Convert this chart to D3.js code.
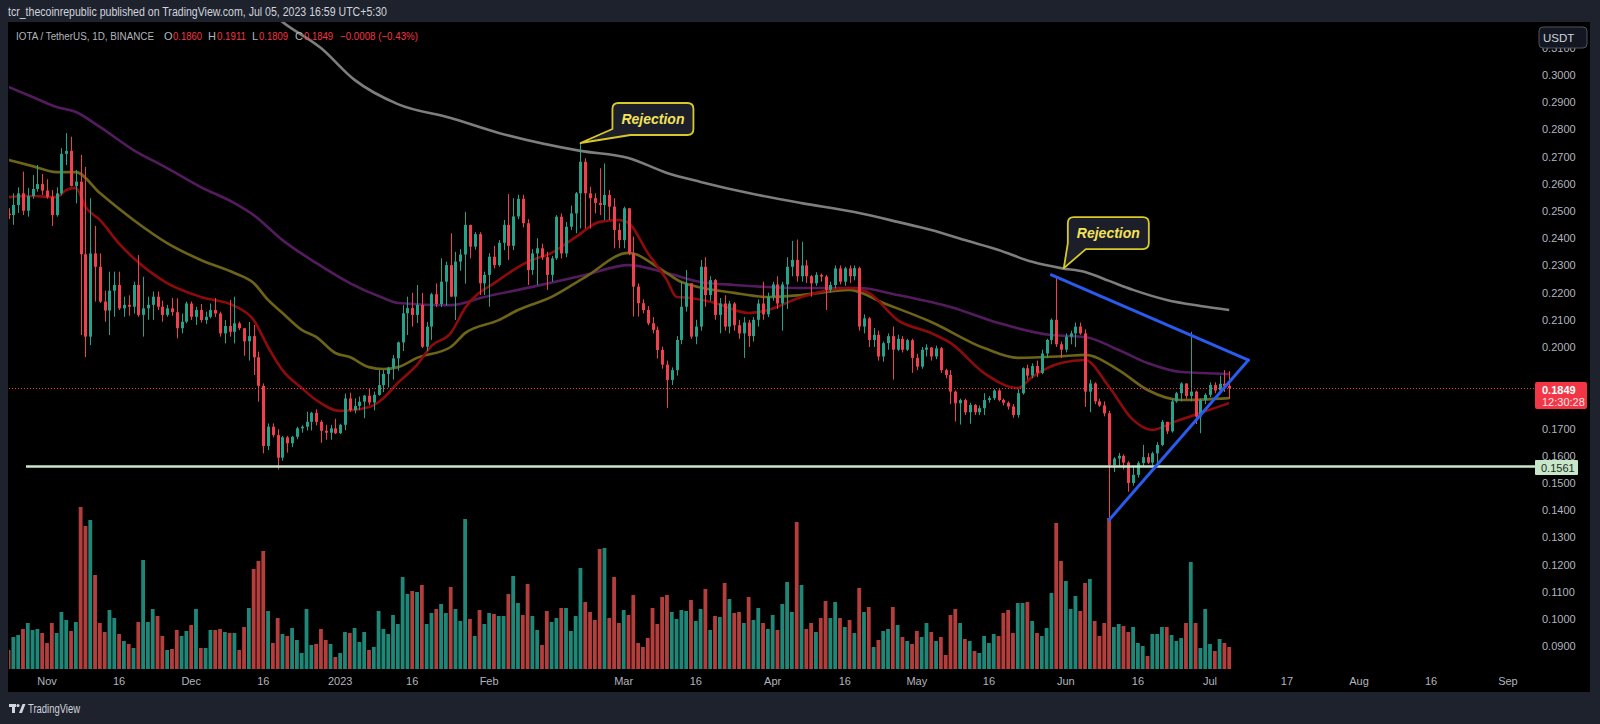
<!DOCTYPE html>
<html>
<head>
<meta charset="utf-8">
<script src="https://cdn.jsdelivr.net/npm/d3@7"></script>
<style>
  body { margin: 0; background: #1e222d; }
  svg { display: block; }
  text { font-family: "Liberation Sans", Arial, sans-serif; }
</style>
</head>
<body>
<div id="chart"></div>
<script>
// ---- data (IOTA/USDT daily, Binance) ----
const startDay = "2022-10-24";
const firstOpen = 0.2490;

const closes = [
  .2485,.2522,.2565,.2501,.2555,.2581,.2599,.2575,.2552,.2485,
  .2565,.2710,.2721,.2592,.2608,.2341,.2038,.2344,.2295,.2167,
  .2134,.2207,.2228,.2142,.2155,.2148,.2228,.2118,.2142,.2155,
  .2185,.2148,.2118,.2142,.2128,.2069,.2093,.2160,.2111,.2136,
  .2099,.2111,.2136,.2123,.2050,.2077,.2056,.2087,.2069,.2021,
  .2040,.1962,.1857,.1636,.1707,.1676,.1593,.1668,.1646,.1670,
  .1701,.1707,.1725,.1758,.1725,.1692,.1685,.1701,.1683,.1714,
  .1811,.1768,.1783,.1799,.1821,.1796,.1824,.1860,.1901,.1924,
  .1958,.2017,.2124,.2143,.2118,.2155,.2001,.2075,.2194,.2158,
  .2240,.2301,.2185,.2314,.2340,.2449,.2369,.2415,.2234,.2265,
  .2332,.2301,.2383,.2449,.2372,.2480,.2545,.2455,.2283,.2344,
  .2363,.2330,.2265,.2326,.2479,.2344,.2442,.2491,.2565,.2681,
  .2565,.2547,.2530,.2522,.2559,.2516,.2430,.2393,.2510,.2344,
  .2222,.2161,.2136,.2087,.2063,.1989,.1935,.1879,.1915,.2026,
  .2148,.2234,.2038,.2075,.2295,.2191,.2246,.2118,.2160,.2075,
  .2160,.2080,.2050,.2090,.2040,.2100,.2160,.2120,.2185,.2230,
  .2160,.2230,.2295,.2320,.2260,.2300,.2260,.2234,.2265,.2259,
  .2210,.2228,.2289,.2240,.2289,.2260,.2290,.2075,.2105,.2026,
  .2045,.1965,.2014,.2040,.1990,.2030,.1990,.2025,.1960,.1928,
  .1990,.1998,.1965,.1995,.1915,.1897,.1836,.1793,.1805,.1760,
  .1787,.1760,.1775,.1805,.1812,.1840,.1805,.1795,.1781,.1750,
  .1830,.1922,.1895,.1930,.1905,.1976,.2026,.2100,.2010,.1990,
  .2038,.2050,.2075,.2050,.1836,.1866,.1800,.1785,.1756,.1566,
  .1590,.1600,.1575,.1500,.1530,.1573,.1595,.1575,.1609,.1640,
  .1725,.1690,.1800,.1830,.1866,.1820,.1836,.1744,.1805,.1824,
  .1860,.1840,.1865,.1857,.1849
];

const highs = [
  .2510,.2565,.2587,.2645,.2585,.2632,.2669,.2636,.2617,.2577,
  .2587,.2731,.2786,.2773,.2651,.2706,.2662,.2547,.2445,.2344,
  .2207,.2277,.2277,.2277,.2185,.2190,.2240,.2338,.2258,.2185,
  .2204,.2204,.2170,.2155,.2180,.2179,.2123,.2167,.2167,.2148,
  .2158,.2130,.2160,.2180,.2130,.2099,.2173,.2185,.2093,.2069,
  .2092,.2081,.1983,.1866,.1719,.1719,.1697,.1673,.1673,.1673,
  .1707,.1712,.1762,.1762,.1771,.1731,.1714,.1714,.1736,.1718,
  .1829,.1832,.1811,.1818,.1824,.1846,.1836,.1915,.1915,.1927,
  .1971,.2020,.2154,.2185,.2199,.2228,.2199,.2092,.2199,.2234,
  .2326,.2314,.2418,.2350,.2360,.2497,.2449,.2422,.2422,.2277,
  .2345,.2372,.2393,.2467,.2562,.2547,.2560,.2560,.2470,.2360,
  .2400,.2380,.2350,.2335,.2485,.2491,.2460,.2520,.2570,.2750,
  .2694,.2589,.2565,.2657,.2675,.2577,.2547,.2455,.2516,.2510,
  .2406,.2234,.2175,.2150,.2110,.2075,.2001,.1950,.1925,.2040,
  .2240,.2283,.2234,.2100,.2320,.2330,.2260,.2250,.2180,.2190,
  .2170,.2165,.2100,.2110,.2100,.2110,.2175,.2240,.2200,.2240,
  .2260,.2240,.2330,.2390,.2395,.2387,.2320,.2265,.2275,.2270,
  .2265,.2240,.2300,.2300,.2295,.2300,.2300,.2295,.2120,.2110,
  .2070,.2060,.2020,.2050,.2075,.2045,.2040,.2030,.2030,.1975,
  .2000,.2010,.2000,.2005,.2000,.1920,.1915,.1840,.1810,.1810,
  .1795,.1790,.1785,.1830,.1820,.1845,.1845,.1810,.1800,.1790,
  .1845,.1925,.1935,.1940,.1950,.1990,.2030,.2105,.2261,.2020,
  .2050,.2060,.2090,.2090,.2065,.1880,.1870,.1810,.1800,.1765,
  .1595,.1610,.1605,.1580,.1560,.1580,.1640,.1610,.1615,.1650,
  .1732,.1725,.1810,.1835,.1870,.1866,.2056,.1840,.1810,.1830,
  .1870,.1870,.1895,.1915,.1911
];

const lows = [
  .2470,.2449,.2493,.2485,.2479,.2545,.2571,.2559,.2545,.2445,
  .2479,.2558,.2669,.2590,.2528,.2044,.1963,.2007,.2167,.2162,
  .2093,.2044,.2111,.2136,.2111,.2115,.2123,.2111,.2038,.2100,
  .2100,.2136,.2093,.2111,.2115,.2032,.2050,.2087,.2099,.2081,
  .2090,.2085,.2105,.2110,.2038,.2013,.2038,.2013,.2062,.1968,
  .1950,.1897,.1799,.1609,.1621,.1668,.1550,.1582,.1612,.1632,
  .1661,.1685,.1693,.1693,.1712,.1648,.1659,.1659,.1680,.1680,
  .1694,.1762,.1756,.1768,.1738,.1786,.1767,.1821,.1834,.1851,
  .1880,.1913,.1985,.2044,.2075,.2088,.1996,.1985,.2026,.2147,
  .2147,.2152,.2185,.2099,.2280,.2233,.2326,.2358,.2191,.2191,
  .2148,.2289,.2295,.2356,.2320,.2356,.2470,.2440,.2228,.2265,
  .2228,.2320,.2210,.2240,.2320,.2326,.2330,.2430,.2418,.2436,
  .2436,.2436,.2491,.2485,.2467,.2467,.2363,.2363,.2363,.2338,
  .2112,.2112,.2124,.2080,.2050,.1958,.1920,.1776,.1860,.1895,
  .2010,.2130,.2030,.2010,.2060,.2148,.2170,.2100,.2050,.2060,
  .2050,.2060,.2030,.1960,.2000,.2020,.2075,.2100,.2110,.2170,
  .2140,.2060,.2140,.2260,.2240,.2240,.2235,.2185,.2225,.2240,
  .2136,.2200,.2215,.2230,.2225,.2235,.2245,.2060,.2050,.2000,
  .2000,.1950,.1946,.1990,.1880,.1985,.1980,.1985,.1905,.1915,
  .1920,.1965,.1950,.1955,.1905,.1885,.1790,.1726,.1715,.1750,
  .1718,.1750,.1750,.1750,.1795,.1805,.1800,.1785,.1770,.1740,
  .1740,.1825,.1880,.1885,.1890,.1900,.1960,.2010,.2000,.1960,
  .1980,.2010,.2000,.2045,.1780,.1760,.1790,.1780,.1745,.1370,
  .1540,.1560,.1550,.1468,.1490,.1520,.1560,.1570,.1565,.1570,
  .1635,.1680,.1685,.1795,.1800,.1810,.1800,.1717,.1683,.1790,
  .1815,.1830,.1835,.1835,.1809
];

// volume, millions IOTA
const volumes = [
  1.9,3.2,3.4,4.0,4.6,3.9,4.0,3.6,2.6,4.6,
  3.6,5.7,4.9,3.8,4.7,16.2,14.3,14.9,9.4,4.6,
  3.7,5.9,5.1,3.5,2.8,2.5,2.1,4.7,10.9,4.7,
  6.0,5.3,3.3,1.9,2.0,3.9,3.3,3.8,4.4,6.0,
  2.1,2.1,3.9,3.9,4.0,3.7,3.6,3.6,1.9,4.2,
  6.1,10.0,10.8,11.8,5.8,2.6,5.1,3.5,3.3,4.1,
  2.9,1.6,6.0,2.4,2.5,4.0,2.9,2.5,1.2,1.6,
  3.7,3.6,4.1,2.7,3.7,1.9,2.2,5.8,4.0,3.5,
  5.4,4.5,9.2,7.5,7.8,7.7,8.4,4.5,5.6,6.0,
  6.5,5.6,8.2,6.0,4.8,15.0,5.0,3.3,5.9,4.5,
  5.6,5.5,5.3,5.3,7.5,9.3,6.6,5.4,8.5,5.3,
  3.9,2.4,5.8,4.7,5.1,6.1,6.1,3.8,5.3,10.1,
  6.7,5.7,4.9,12.0,12.1,5.1,9.2,4.6,5.9,5.4,
  7.4,2.6,2.2,3.1,6.1,4.5,7.2,7.4,5.7,5.0,
  5.9,5.8,6.9,4.8,6.0,8.0,3.9,5.3,5.2,8.6,
  7.0,5.6,5.7,4.6,7.2,4.9,6.1,4.6,4.0,5.4,
  3.9,6.5,8.7,5.7,14.7,8.4,4.0,4.6,3.7,5.1,
  6.8,5.1,6.7,5.1,4.2,4.9,3.6,8.1,5.7,6.2,
  2.2,2.9,3.8,4.0,6.2,4.4,3.2,2.8,2.5,3.8,
  3.2,4.6,3.7,2.8,3.2,1.4,5.4,6.0,4.6,3.0,
  2.8,1.8,1.6,3.3,2.6,3.5,3.3,5.6,5.9,3.6,
  6.6,6.6,6.7,4.8,3.6,3.3,4.1,7.6,14.6,10.8,
  8.8,6.0,7.3,5.8,8.6,9.0,4.8,3.3,4.6,15.1,
  4.2,4.5,4.3,3.7,4.2,2.6,2.3,1.3,3.5,3.5,
  4.2,4.2,3.4,2.8,3.1,4.6,10.7,4.6,2.1,6.0,
  2.5,1.8,3.0,2.6,2.2
];

// last bar as shown in the legend
const lastBarLabels = ["0.1860", "0.1911", "0.1809", "0.1849"];
const lastChangeLabel = "\u22120.0008 (\u22120.43%)";

// moving averages
const ema20 = [
  ["2022-10-24",.2551],["2022-10-29",.2555],["2022-11-03",.2551],["2022-11-05",.2577],
  ["2022-11-07",.2585],["2022-11-09",.2515],["2022-11-12",.2467],["2022-11-16",.2380],
  ["2022-11-19",.2327],["2022-11-26",.2235],["2022-12-03",.2184],["2022-12-10",.2151],
  ["2022-12-14",.2099],["2022-12-17",.2000],["2022-12-20",.1915],["2022-12-24",.1849],
  ["2022-12-27",.1805],["2023-01-01",.1765],["2023-01-07",.1779],["2023-01-10",.1812],
  ["2023-01-13",.1868],["2023-01-17",.1934],["2023-01-20",.2004],["2023-01-24",.2051],
  ["2023-01-27",.2143],["2023-02-03",.2246],["2023-02-09",.2313],["2023-02-14",.2346],
  ["2023-02-19",.2404],["2023-02-24",.2460],["2023-02-28",.2467],["2023-03-02",.2456],
  ["2023-03-06",.2346],["2023-03-10",.2246],["2023-03-12",.2184],["2023-03-15",.2180],
  ["2023-03-20",.2162],["2023-03-27",.2125],["2023-03-31",.2136],["2023-04-07",.2184],
  ["2023-04-17",.2217],["2023-04-21",.2199],["2023-04-27",.2099],["2023-05-04",.2051],
  ["2023-05-08",.2015],["2023-05-15",.1904],["2023-05-22",.1849],["2023-05-25",.1890],
  ["2023-05-31",.1941],["2023-06-05",.1952],["2023-06-10",.1853],["2023-06-15",.1732],
  ["2023-06-19",.1695],["2023-06-23",.1721],["2023-06-29",.1757],["2023-07-05",.1794]
];
const ema50 = [
  ["2022-10-24",.2688],["2022-10-29",.2665],["2022-11-03",.2643],["2022-11-07",.2643],
  ["2022-11-12",.2566],["2022-11-19",.2467],["2022-11-26",.2382],["2022-12-03",.2320],
  ["2022-12-10",.2272],["2022-12-14",.2235],["2022-12-17",.2173],["2022-12-20",.2125],
  ["2022-12-24",.2063],["2022-12-27",.2037],["2022-12-31",.1978],["2023-01-03",.1963],
  ["2023-01-07",.1926],["2023-01-10",.1919],["2023-01-13",.1926],["2023-01-17",.1960],
  ["2023-01-24",.2000],["2023-01-27",.2051],["2023-02-03",.2099],["2023-02-07",.2136],
  ["2023-02-14",.2184],["2023-02-21",.2257],["2023-03-02",.2346],["2023-03-09",.2283],
  ["2023-03-13",.2239],["2023-03-24",.2199],["2023-03-31",.2184],["2023-04-07",.2191],
  ["2023-04-17",.2210],["2023-04-24",.2162],["2023-05-04",.2092],["2023-05-15",.1996],
  ["2023-05-22",.1960],["2023-06-01",.1967],["2023-06-05",.1971],["2023-06-12",.1915],
  ["2023-06-18",.1842],["2023-06-25",.1805],["2023-07-05",.1812]
];
const ema100 = [
  ["2022-10-24",.2956],["2022-10-29",.2919],["2022-11-03",.2882],["2022-11-07",.2864],
  ["2022-11-12",.2809],["2022-11-19",.2724],["2022-11-26",.2658],["2022-12-03",.2588],
  ["2022-12-10",.2529],["2022-12-14",.2485],["2022-12-20",.2393],["2022-12-27",.2309],
  ["2023-01-03",.2235],["2023-01-10",.2180],["2023-01-13",.2162],["2023-01-24",.2154],
  ["2023-01-31",.2184],["2023-02-10",.2221],["2023-02-21",.2265],["2023-03-02",.2301],
  ["2023-03-10",.2272],["2023-03-17",.2239],["2023-03-24",.2228],["2023-04-07",.2217],
  ["2023-04-19",.2217],["2023-04-27",.2191],["2023-05-08",.2147],["2023-05-18",.2088],
  ["2023-05-29",.2044],["2023-06-05",.2037],["2023-06-12",.1989],["2023-06-18",.1941],
  ["2023-06-25",.1908],["2023-07-05",.1901]
];
const ema200 = [
  ["2022-12-17",.3239],["2022-12-20",.3195],["2022-12-28",.3099],["2023-01-04",.2982],
  ["2023-01-13",.2893],["2023-01-24",.2842],["2023-02-03",.2787],["2023-02-20",.2721],
  ["2023-03-02",.2695],["2023-03-10",.2640],["2023-03-17",.2607],["2023-03-27",.2566],
  ["2023-04-07",.2529],["2023-04-18",.2496],["2023-04-27",.2460],["2023-05-04",.2430],
  ["2023-05-11",.2393],["2023-05-18",.2357],["2023-05-25",.2313],["2023-05-31",.2290],
  ["2023-06-05",.2276],["2023-06-10",.2243],["2023-06-15",.2210],["2023-06-22",.2173],
  ["2023-06-29",.2151],["2023-07-05",.2136]
];

// drawings
const supportLevel = 0.1561;
const upperTrend = [["2023-05-29", 0.2265], ["2023-07-09", 0.1952]];
const lowerTrend = [["2023-06-10", 0.1364], ["2023-07-09", 0.1952]];
const callouts = [
  { date: "2023-02-20", price: 0.2750, label: "Rejection", dx: 32, dy: -40 },
  { date: "2023-05-31T14:00", price: 0.2290, label: "Rejection", dx: 4, dy: -51 }
];

const priceTicks = [0.09,0.10,0.11,0.12,0.13,0.14,0.15,0.16,0.17,0.18,0.19,0.20,
                    0.21,0.22,0.23,0.24,0.25,0.26,0.27,0.28,0.29,0.30,0.31];
const timeTicks = [
  ["2022-11-01","Nov"],["2022-11-16","16"],["2022-12-01","Dec"],["2022-12-16","16"],
  ["2023-01-01","2023"],["2023-01-16","16"],["2023-02-01","Feb"],["2023-03-01","Mar"],
  ["2023-03-16","16"],["2023-04-01","Apr"],["2023-04-16","16"],["2023-05-01","May"],
  ["2023-05-16","16"],["2023-06-01","Jun"],["2023-06-16","16"],["2023-07-01","Jul"],
  ["2023-07-17","17"],["2023-08-01","Aug"],["2023-08-16","16"],["2023-09-01","Sep"]
];

// ---- build rows ----
const parse = s => new Date(s.length > 10 ? s + "Z" : s + "T00:00:00Z");
const day0 = parse(startDay);
const candles = closes.map((c, i) => {
  const o = i === 0 ? firstOpen : closes[i - 1];
  return { date: d3.utcDay.offset(day0, i), o, h: highs[i], l: lows[i], c, v: volumes[i] };
});

// ---- layout ----
const W = 1600, H = 724;
const plot = { left: 9, top: 22, right: 1500, bottom: 669 };
const UP = "#26a18a", DOWN = "#f0404e";
const VOL_UP = "#1f8777", VOL_DOWN = "#b33e3c";

const x = d3.scaleUtc()
  .domain([parse("2022-11-01"), parse("2023-07-01")])
  .range([47, 1210]);
const y = d3.scaleLinear().domain([0.2, 0.3]).range([347, 75]);
const yVol = d3.scaleLinear().domain([0, 17]).range([669, 499]);

const svg = d3.select("#chart").append("svg")
  .attr("width", W).attr("height", H);

// frame + chart background
svg.append("rect").attr("width", W).attr("height", H).attr("fill", "#1e222d");
svg.append("rect").attr("x", 8).attr("y", 22).attr("width", 1582).attr("height", 670)
  .attr("fill", "#000");

svg.append("defs").append("clipPath").attr("id", "plotClip")
  .append("rect")
  .attr("x", plot.left).attr("y", plot.top)
  .attr("width", plot.right - plot.left).attr("height", plot.bottom - plot.top);

const g = svg.append("g").attr("clip-path", "url(#plotClip)");

// volume
g.append("g").selectAll("rect")
  .data(candles)
  .join("rect")
    .attr("x", d => x(d.date) - 1.9)
    .attr("width", 3.8)
    .attr("y", d => yVol(d.v))
    .attr("height", d => yVol(0) - yVol(d.v))
    .attr("fill", d => d.c >= d.o ? VOL_UP : VOL_DOWN);

// moving averages
const maLine = d3.line()
  .x(d => x(parse(d[0])))
  .y(d => y(d[1]))
  .curve(d3.curveMonotoneX);

[[ema200, "#7e7e7e"], [ema100, "#541b5e"], [ema50, "#6d6418"], [ema20, "#8e0b0b"]]
  .forEach(([pts, col]) => {
    g.append("path").datum(pts)
      .attr("d", maLine)
      .attr("fill", "none")
      .attr("stroke", col)
      .attr("stroke-width", 2.6)
      .attr("stroke-linejoin", "round");
  });

// candles
const cg = g.append("g");
cg.selectAll("line")
  .data(candles)
  .join("line")
    .attr("x1", d => Math.round(x(d.date)) + 0.5)
    .attr("x2", d => Math.round(x(d.date)) + 0.5)
    .attr("y1", d => y(Math.max(d.h, d.o, d.c)))
    .attr("y2", d => y(Math.min(d.l, d.o, d.c)))
    .attr("stroke", d => d.c >= d.o ? UP : DOWN)
    .attr("stroke-width", 1);
cg.selectAll("rect")
  .data(candles)
  .join("rect")
    .attr("x", d => Math.round(x(d.date)) - 1)
    .attr("width", 3)
    .attr("y", d => y(Math.max(d.o, d.c)))
    .attr("height", d => Math.max(1, Math.abs(y(d.o) - y(d.c))))
    .attr("fill", d => d.c >= d.o ? UP : DOWN);

// last price dotted line
const last = candles[candles.length - 1];
const lastY = y(last.c);
svg.append("line")
  .attr("x1", plot.left).attr("x2", 1535)
  .attr("y1", Math.round(lastY) + 0.5).attr("y2", Math.round(lastY) + 0.5)
  .attr("stroke", "#f23645").attr("stroke-width", 1)
  .attr("stroke-dasharray", "1,2");

// support line
svg.append("line")
  .attr("x1", 26).attr("x2", 1535)
  .attr("y1", y(supportLevel)).attr("y2", y(supportLevel))
  .attr("stroke", "#c8e6c9").attr("stroke-width", 2.5);

// triangle trend lines
[upperTrend, lowerTrend].forEach(t => {
  svg.append("line")
    .attr("x1", x(parse(t[0][0]))).attr("y1", y(t[0][1]))
    .attr("x2", x(parse(t[1][0]))).attr("y2", y(t[1][1]))
    .attr("stroke", "#2a5bef").attr("stroke-width", 3)
    .attr("stroke-linecap", "round");
});

// callouts
function calloutPath(x0, y0, w, h, r, tx, ty) {
  const x1 = x0 + w, y1 = y0 + h;
  return `M${x0 + r},${y0} H${x1 - r} Q${x1},${y0} ${x1},${y0 + r} V${y1 - r} ` +
    `Q${x1},${y1} ${x1 - r},${y1} H${x0 + 18} L${tx},${ty} L${x0},${y1 - 6} ` +
    `V${y0 + r} Q${x0},${y0} ${x0 + r},${y0} Z`;
}
callouts.forEach(c => {
  const tx = x(parse(c.date)), ty = y(c.price);
  const bx = tx + c.dx, by = ty + c.dy, bw = 81, bh = 32;
  svg.append("path")
    .attr("d", calloutPath(bx, by, bw, bh, 6, tx, ty))
    .attr("fill", "#1c1f2a")
    .attr("stroke", "#d8c92a")
    .attr("stroke-width", 1.8)
    .attr("stroke-linejoin", "round");
  svg.append("text")
    .attr("x", bx + bw / 2).attr("y", by + bh / 2 + 5)
    .attr("text-anchor", "middle")
    .attr("font-size", 14).attr("font-weight", "bold").attr("font-style", "italic")
    .attr("fill", "#f4e35a")
    .text(c.label);
});

// price axis labels (the one under the last-price tag is hidden, as on the chart)
svg.append("g").selectAll("text")
  .data(priceTicks.filter(t => Math.abs(y(t) - lastY) > 14))
  .join("text")
    .attr("x", 1542).attr("y", d => y(d) + 4)
    .attr("font-size", 11).attr("fill", "#b2b5be")
    .text(d => d.toFixed(4));

// USDT badge
svg.append("rect").attr("x", 1539).attr("y", 27).attr("width", 48).attr("height", 21)
  .attr("rx", 4).attr("fill", "#131722").attr("stroke", "#50535e");
svg.append("text").attr("x", 1543).attr("y", 42).attr("font-size", 11.5)
  .attr("fill", "#d1d4dc").text("USDT");

// last price tag
svg.append("rect").attr("x", 1535).attr("y", 382).attr("width", 52).attr("height", 27)
  .attr("rx", 2).attr("fill", "#f23645");
svg.append("text").attr("x", 1542).attr("y", 394).attr("font-size", 11)
  .attr("font-weight", "bold").attr("fill", "#fff").text(last.c.toFixed(4));
svg.append("text").attr("x", 1542).attr("y", 406).attr("font-size", 11)
  .attr("fill", "#ffe5e7").text("12:30:28");

// support tag
svg.append("rect").attr("x", 1535).attr("y", 460).attr("width", 43).attr("height", 15)
  .attr("rx", 1).attr("fill", "#c8e6c9");
svg.append("text").attr("x", 1541).attr("y", 472).attr("font-size", 11)
  .attr("fill", "#1b2a1c").text(supportLevel.toFixed(4));

// time axis labels
svg.append("g").selectAll("text")
  .data(timeTicks)
  .join("text")
    .attr("x", d => x(parse(d[0])))
    .attr("y", 685)
    .attr("text-anchor", "middle")
    .attr("font-size", 11).attr("fill", "#b2b5be")
    .text(d => d[1]);

// legend
const legendParts = [
  ["IOTA / TetherUS, 1D, BINANCE", 16, "#b2b5be", 138, 10],
  ["O", 164, "#b2b5be"], [lastBarLabels[0], 173, "#f23645", 29],
  ["H", 208, "#b2b5be"], [lastBarLabels[1], 217, "#f23645", 29],
  ["L", 252, "#b2b5be"], [lastBarLabels[2], 259, "#f23645", 29],
  ["C", 295, "#b2b5be"], [lastBarLabels[3], 304, "#f23645", 29],
  [lastChangeLabel, 340, "#f23645", 78]
];
legendParts.forEach(([t, xx, col, len, fs]) => {
  const tx = svg.append("text").attr("x", xx).attr("y", 40)
    .attr("font-size", fs || 11).attr("fill", col).text(t);
  if (len) tx.attr("textLength", len).attr("lengthAdjust", "spacingAndGlyphs");
});

// header + footer
svg.append("text").attr("x", 8).attr("y", 16).attr("font-size", 12)
  .attr("fill", "#d1d4dc")
  .attr("textLength", 379).attr("lengthAdjust", "spacingAndGlyphs")
  .text("tcr_thecoinrepublic published on TradingView.com, Jul 05, 2023 16:59 UTC+5:30");

const logo = svg.append("g").attr("fill", "#d1d4dc");
logo.append("rect").attr("x", 9).attr("y", 704).attr("width", 7).attr("height", 3);
logo.append("rect").attr("x", 12).attr("y", 704).attr("width", 3).attr("height", 9);
logo.append("circle").attr("cx", 18).attr("cy", 705.5).attr("r", 1.6);
logo.append("path").attr("d", "M19,713 L22.5,704 L25.5,704 L22,713 Z");
svg.append("text").attr("x", 28).attr("y", 713).attr("font-size", 12)
  .attr("fill", "#d1d4dc")
  .attr("textLength", 52).attr("lengthAdjust", "spacingAndGlyphs")
  .text("TradingView");
</script>
</body>
</html>
